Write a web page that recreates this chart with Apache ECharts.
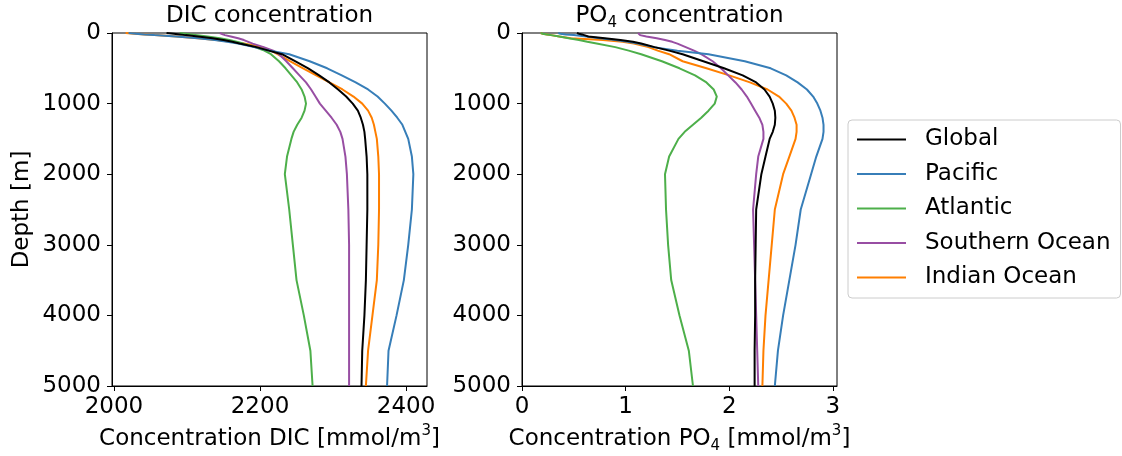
<!DOCTYPE html>
<html>
<head>
<meta charset="utf-8">
<script src="https://cdn.jsdelivr.net/npm/echarts@6/dist/echarts.min.js"></script>
<style>
  html, body { margin: 0; padding: 0; background: #ffffff; }
  #chart { width: 1122px; height: 456px; }
</style>
</head>
<body>
<div id="chart"></div>
<script>
// Depth levels of the profiles [m]
const depths = [0, 10, 20, 30, 50, 75, 100, 125, 150, 200, 250, 300, 400, 500, 600, 700, 800, 900,
  1000, 1100, 1200, 1300, 1400, 1500, 1750, 2000, 2500, 3000, 3500, 4000, 4500, 5000];

const regions = ['Global', 'Pacific', 'Atlantic', 'Southern Ocean', 'Indian Ocean'];
const regionColors = ['#000000', '#377eb8', '#4daf4a', '#984ea3', '#ff7f00'];

// DIC concentration profiles [mmol/m3]
const dicGlobal = [2072, 2082, 2090, 2098, 2115, 2135, 2150, 2162, 2172, 2195, 2212, 2230, 2248, 2266, 2281, 2295, 2307, 2318,
  2327, 2334, 2338, 2341, 2343, 2344, 2346, 2347, 2347, 2346, 2345, 2343, 2340, 2339];
const dicPacific = [2020, 2030, 2042, 2055, 2085, 2115, 2138, 2155, 2170, 2192, 2214, 2240, 2268, 2292, 2312, 2331, 2348, 2361,
  2371, 2380, 2388, 2395, 2399, 2403, 2408, 2410, 2408, 2403, 2397, 2387, 2376, 2374];
const dicAtlantic = [2090, 2098, 2106, 2114, 2128, 2145, 2158, 2168, 2177, 2193, 2206, 2215, 2226, 2235, 2243, 2251, 2257, 2261,
  2263, 2261, 2257, 2251, 2246, 2243, 2237, 2234, 2240, 2245, 2250, 2260, 2269, 2272];
const dicSouthern = [2145, 2147, 2149, 2152, 2160, 2170, 2178, 2184, 2190, 2205, 2218, 2226, 2236, 2245, 2254, 2263, 2270, 2276,
  2282, 2290, 2298, 2305, 2310, 2313, 2317, 2319, 2321, 2322, 2322, 2322, 2322, 2322];
const dicIndian = [2016, 2028, 2042, 2056, 2086, 2115, 2140, 2160, 2178, 2203, 2215, 2224, 2241, 2259, 2277, 2295, 2313, 2328,
  2340, 2348, 2353, 2356, 2358, 2360, 2362, 2363, 2363, 2362, 2360, 2354, 2348, 2345];

// PO4 concentration profiles [mmol/m3]
const po4Global = [0.53, 0.55, 0.58, 0.60, 0.64, 0.80, 0.95, 1.07, 1.15, 1.28, 1.42, 1.55, 1.75, 1.95, 2.13, 2.26, 2.34, 2.39,
  2.42, 2.44, 2.445, 2.44, 2.42, 2.39, 2.35, 2.31, 2.26, 2.255, 2.25, 2.25, 2.245, 2.245];
const po4Pacific = [0.35, 0.37, 0.42, 0.50, 0.62, 0.75, 0.90, 1.02, 1.12, 1.27, 1.50, 1.80, 2.15, 2.40, 2.55, 2.66, 2.75, 2.81,
  2.85, 2.88, 2.90, 2.91, 2.91, 2.90, 2.84, 2.79, 2.69, 2.64, 2.58, 2.52, 2.47, 2.44];
const po4Atlantic = [0.18, 0.20, 0.24, 0.28, 0.36, 0.45, 0.55, 0.63, 0.72, 0.90, 1.03, 1.15, 1.35, 1.52, 1.67, 1.78, 1.85, 1.88,
  1.86, 1.80, 1.73, 1.65, 1.57, 1.51, 1.42, 1.38, 1.39, 1.41, 1.44, 1.52, 1.61, 1.65];
const po4Southern = [1.12, 1.12, 1.13, 1.14, 1.20, 1.30, 1.38, 1.45, 1.50, 1.58, 1.66, 1.73, 1.84, 1.92, 1.99, 2.06, 2.12, 2.17,
  2.21, 2.25, 2.29, 2.32, 2.33, 2.33, 2.28, 2.26, 2.23, 2.24, 2.25, 2.26, 2.27, 2.28];
const po4Indian = [0.18, 0.20, 0.24, 0.28, 0.36, 0.47, 0.78, 0.97, 1.08, 1.22, 1.31, 1.42, 1.55, 1.78, 2.00, 2.20, 2.37, 2.48,
  2.55, 2.60, 2.63, 2.65, 2.65, 2.64, 2.58, 2.52, 2.44, 2.41, 2.38, 2.35, 2.33, 2.32];

// Tick positions
const dicTicks = [2000, 2200, 2400];
const po4Ticks = [0, 1, 2, 3];
const depthTicks = [0, 1000, 2000, 3000, 4000, 5000];

const dicProfiles = [dicGlobal, dicPacific, dicAtlantic, dicSouthern, dicIndian];
const po4Profiles = [po4Global, po4Pacific, po4Atlantic, po4Southern, po4Indian];

const FONT = 'DejaVu Sans';
const FS = 23;

function profile(values) {
  return values.map((v, i) => [v, depths[i]]);
}

const plainNumber = v => String(v);

function xAxisFor(gridIndex, min, max, ticks, name) {
  return {
    type: 'value', gridIndex, min, max,
    name, nameLocation: 'middle', nameGap: 38,
    nameTextStyle: {
      fontFamily: FONT, fontSize: FS, color: '#000', lineHeight: 30,
      rich: { sup: { fontFamily: FONT, fontSize: 15, verticalAlign: 'top', lineHeight: 30, color: '#000' },
              sub: { fontFamily: FONT, fontSize: 15, verticalAlign: 'bottom', lineHeight: 30, color: '#000' } }
    },
    axisLine: { show: true, onZero: false, lineStyle: { color: '#000', width: 1 } },
    axisTick: { show: true, customValues: ticks, length: 5, lineStyle: { color: '#000', width: 1 } },
    axisLabel: { customValues: ticks, formatter: plainNumber, fontFamily: FONT, fontSize: FS, color: '#000', margin: 10 },
    splitLine: { show: false }
  };
}

function yAxisFor(gridIndex, name) {
  return {
    type: 'value', gridIndex, inverse: true, min: 0, max: 5000, interval: 1000,
    name, nameLocation: 'middle', nameGap: 78, nameRotate: 90,
    nameTextStyle: { fontFamily: FONT, fontSize: FS, color: '#000' },
    axisLine: { show: true, onZero: false, lineStyle: { color: '#000', width: 1 } },
    axisTick: { show: true, length: 5, lineStyle: { color: '#000', width: 1 } },
    axisLabel: { fontFamily: FONT, fontSize: FS, color: '#000', margin: 11,
                 customValues: depthTicks, formatter: plainNumber },
    splitLine: { show: false }
  };
}

const series = [];
regions.forEach((name, k) => {
  series.push({
    name, type: 'line', xAxisIndex: 0, yAxisIndex: 0, data: profile(dicProfiles[k]),
    showSymbol: false, symbol: 'none', lineStyle: { color: regionColors[k], width: 2 },
    itemStyle: { color: regionColors[k] }, animation: false, z: 10 - k
  });
  series.push({
    name, type: 'line', xAxisIndex: 1, yAxisIndex: 1, data: profile(po4Profiles[k]),
    showSymbol: false, symbol: 'none', lineStyle: { color: regionColors[k], width: 2 },
    itemStyle: { color: regionColors[k] }, animation: false, z: 10 - k
  });
});

const gridBase = { top: 33, height: 353, width: 315, show: true, borderColor: '#000', borderWidth: 1,
  backgroundColor: 'transparent', containLabel: false, outerBoundsMode: 'none' };

const chart = echarts.init(document.getElementById('chart'), null, { renderer: 'canvas' });
chart.setOption({
  animation: false,
  backgroundColor: '#ffffff',
  textStyle: { fontFamily: FONT },
  title: [
    { text: 'DIC concentration', left: 269.5, top: 5, textAlign: 'center', padding: 0,
      textStyle: { fontFamily: FONT, fontSize: FS, fontWeight: 'normal', color: '#000' } },
    { text: 'PO{sub|4} concentration', left: 679.5, top: 1, textAlign: 'center', padding: 0,
      textStyle: { fontFamily: FONT, fontSize: FS, fontWeight: 'normal', color: '#000', lineHeight: 30,
        rich: { sub: { fontFamily: FONT, fontSize: 15, verticalAlign: 'bottom', lineHeight: 30, color: '#000' } } } }
  ],
  grid: [
    Object.assign({ left: 112 }, gridBase),
    Object.assign({ left: 522 }, gridBase)
  ],
  xAxis: [
    xAxisFor(0, 1997.3, 2428.7, dicTicks, 'Concentration DIC [mmol/m{sup|3}]'),
    xAxisFor(1, 0, 3.04, po4Ticks, 'Concentration PO{sub|4} [mmol/m{sup|3}]')
  ],
  yAxis: [
    yAxisFor(0, 'Depth [m]'),
    yAxisFor(1, '')
  ],
  legend: {
    orient: 'vertical', left: 848, top: 120,
    data: regions,
    icon: 'rect', itemWidth: 49, itemHeight: 2, itemGap: 11.5,
    padding: [8, 10, 9, 9],
    backgroundColor: '#ffffff', borderColor: '#cccccc', borderWidth: 1, borderRadius: 4,
    selectedMode: false,
    textStyle: { fontFamily: FONT, fontSize: FS, color: '#000', lineHeight: 23, padding: [0, 0, 0, 14] }
  },
  series
});
</script>
</body>
</html>
